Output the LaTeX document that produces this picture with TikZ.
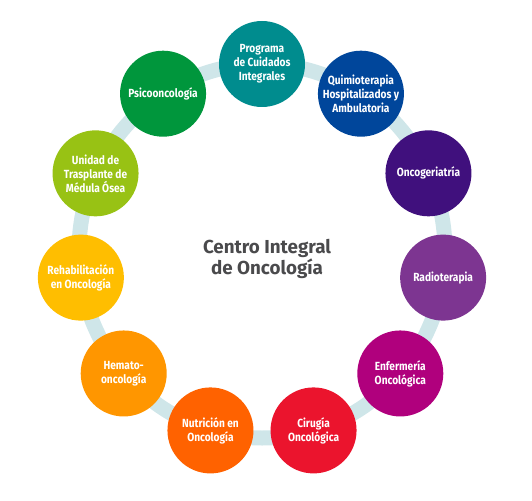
\documentclass[tikz,border=0pt]{standalone}
\usepackage{fontspec}
\usetikzlibrary{calc}
\setsansfont{Fira Sans}[FakeStretch=0.86]
\newfontfamily\titlefont{Fira Sans}
\definecolor{ringblue}{RGB}{207,230,233}
\definecolor{titlegray}{RGB}{74,74,76}
\definecolor{cprog}{RGB}{0,140,142}
\definecolor{cquimio}{RGB}{0,70,155}
\definecolor{cgeria}{RGB}{64,16,125}
\definecolor{cradio}{RGB}{125,53,145}
\definecolor{cenfer}{RGB}{176,0,125}
\definecolor{ciru}{RGB}{235,20,45}
\definecolor{cnutri}{RGB}{255,98,0}
\definecolor{chema}{RGB}{255,150,0}
\definecolor{crehab}{RGB}{255,190,0}
\definecolor{ctrasp}{RGB}{152,194,20}
\definecolor{cpsico}{RGB}{0,150,60}
\begin{document}
\begin{tikzpicture}[x=1pt,y=-1pt,
  ring/.style={line width=15pt,ringblue},
  area/.style={circle,minimum size=86pt,inner sep=0pt,fill=#1,text=white,
    align=center,font=\sffamily\bfseries\fontsize{11.8}{14}\selectfont},
  title/.style={align=center,text=titlegray,font=\titlefont\bfseries\fontsize{18.8}{18.5}\selectfont}]
  \useasboundingbox (0,0) rectangle (532,500);
  \coordinate (c) at (262,251);
  % ring behind the areas
  \draw [ring] (c) ellipse [x radius=183, y radius=187];
  \node [title] (centro) at (267,259) {Centro Integral\\de Oncología};
  \foreach \i/\nm/\col/\txt in {
      0/prog/cprog/{Programa\\de Cuidados\\Integrales},
      1/quimio/cquimio/{Quimioterapia\\Hospitalizados y\\Ambulatoria},
      2/geria/cgeria/{Oncogeriatría},
      3/radio/cradio/{Radioterapia},
      4/enfer/cenfer/{Enfermería\\Oncológica},
      5/ciru/ciru/{Cirugía\\Oncológica},
      6/nutri/cnutri/{Nutrición en\\Oncología},
      7/hema/chema/{Hemato-\\oncología},
      8/rehab/crehab/{Rehabilitación\\en Oncología},
      9/trasp/ctrasp/{Unidad de\\Trasplante de\\Médula Ósea},
      10/psico/cpsico/{Psicooncología}}
    \node [area=\col] (\nm) at ($(c)+(-90+\i*32.727:183 and 187)$) {\txt};
\end{tikzpicture}
\end{document}
